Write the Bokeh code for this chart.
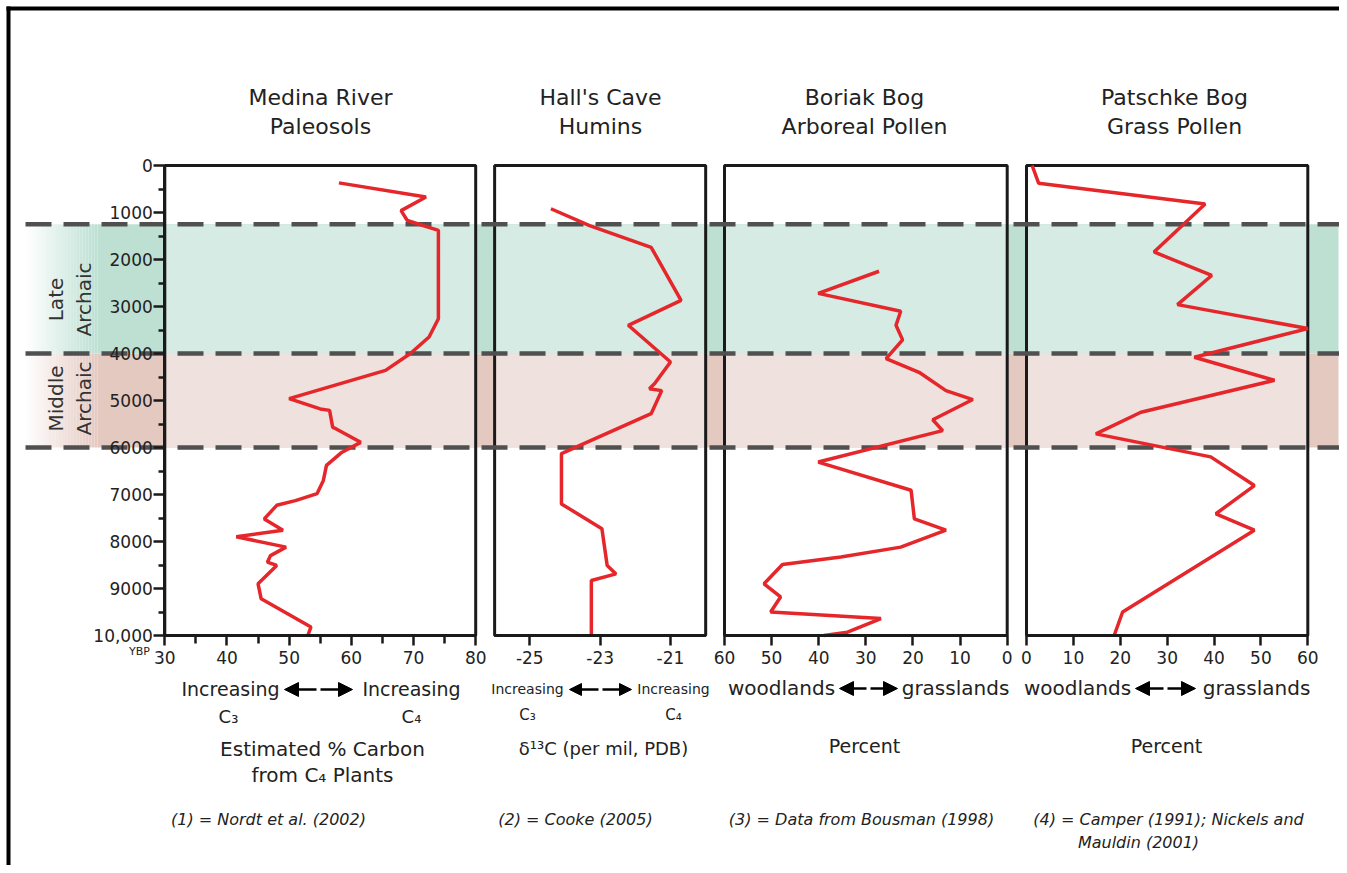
import math
from bokeh.plotting import figure
from bokeh.models import (Range1d, LinearAxis, FixedTicker, Arrow, NormalHead, Label, Grid)
from bokeh.embed import file_html
from bokeh.resources import INLINE

# ---------------- data ----------------
ybp_ticks = [0, 1000, 2000, 3000, 4000, 5000, 6000, 7000, 8000, 9000, 10000]
ybp_minor = [500, 1500, 2500, 3500, 4500, 5500, 6500, 7500, 8500, 9500]

medina_pct = [58, 72, 68, 69, 74, 74, 72.5, 69.5, 65.5, 50, 55, 56.5, 57, 57.5, 61.5,
              58.5, 56, 55.5, 54.5, 51, 48, 46, 49, 41.5, 49.5, 47, 46.5, 48, 45, 45.5, 53.5, 53]
medina_ybp = [370, 670, 960, 1170, 1380, 3260, 3650, 4000, 4360, 4960, 5180, 5210, 5570, 5600, 5890,
              6100, 6380, 6700, 6980, 7130, 7230, 7520, 7760, 7900, 8120, 8300, 8440, 8510, 8900, 9220, 9820, 10000]

halls_d13c = [-24.4, -23.3, -21.55, -20.7, -22.2, -21.0, -21.45, -21.6, -21.25, -21.55,
              -24.1, -24.1, -22.95, -22.8, -22.55, -23.25, -23.25]
halls_ybp = [920, 1280, 1740, 2870, 3400, 4180, 4640, 4750, 4790, 5280,
             6130, 7200, 7730, 8510, 8690, 8830, 10000]

boriak_pct = [27.2, 40.1, 22.6, 23.6, 22.2, 25.7, 18.7, 13.0, 7.3, 15.8, 13.7, 40.1,
              20.4, 19.7, 13.0, 22.6, 35.3, 47.7, 51.6, 48.1, 50.2, 26.8, 33.9, 38.9]
boriak_ybp = [2250, 2720, 3100, 3400, 3710, 4110, 4400, 4790, 4980, 5410, 5640, 6310,
              6910, 7520, 7760, 8120, 8330, 8490, 8900, 9180, 9500, 9640, 9930, 10000]

patschke_pct = [1.2, 2.6, 38.1, 27.2, 39.5, 32.2, 60.0, 35.8, 52.9, 24.4, 14.8, 39.3,
                48.6, 40.4, 48.6, 20.5, 18.7]
patschke_ybp = [0, 380, 820, 1840, 2340, 2960, 3470, 4080, 4570, 5250, 5710, 6200,
                6810, 7410, 7760, 9500, 10000]

medina_ticks = [30, 40, 50, 60, 70, 80]
medina_minor = [35, 45, 55, 65, 75]
halls_ticks = [-25, -23, -21]
halls_tick_labels = ["-25", "-23", "-21"]
boriak_ticks = [60, 50, 40, 30, 20, 10, 0]
patschke_ticks = [0, 10, 20, 30, 40, 50, 60]

period_top = [1250, 4000]
period_bottom = [4000, 6000]
period_boundaries = [1250, 4000, 6000]
period_lines = [["Late", "Archaic"], ["Middle", "Archaic"]]

titles = [["Medina River", "Paleosols"], ["Hall's Cave", "Humins"],
          ["Boriak Bog", "Arboreal Pollen"], ["Patschke Bog", "Grass Pollen"]]

# ---------------- layout ----------------
W, H = 1339, 865
FX0, FX1 = 0, W          # picture px covered by the frame
FY0, FY1 = 0, H
Y0_PX, Y1_PX = 165, 635     # picture px of 0 and 10000 YBP
K = (Y1_PX - Y0_PX) / 10000.0

def ybp_at(py):
    return (py - Y0_PX) / K

def x_range(v0, px0, v1, px1):
    k = (v1 - v0) / (px1 - px0)
    return Range1d(start=v0 + (FX0 - px0) * k, end=v0 + (FX1 - px0) * k)

FONT = "DejaVu Sans"
TXT = "#222222"
GREEN_IN, GREEN_OUT = "#d5ebe3", "#bde0d3"
PINK_IN, PINK_OUT = "#efe1dd", "#e4c9c1"
band_in = [GREEN_IN, PINK_IN]
band_out = [GREEN_OUT, PINK_OUT]

p = figure(width=W, height=H, x_range=Range1d(FX0, FX1),
           y_range=Range1d(ybp_at(FY1), ybp_at(FY0)),
           output_backend="svg", toolbar_location=None,
           x_axis_location=None, y_axis_location=None, min_border=0)
p.center = [r for r in p.center if not isinstance(r, Grid)]
p.outline_line_color = None
p.background_fill_color = "white"
p.border_fill_color = "white"
p.extra_y_ranges = {"pg": Range1d(FY1, FY0)}

panels = [
    dict(name="p1", lo=30, hi=80, rng=x_range(30, 164.3, 80, 475.2), x=medina_pct, y=medina_ybp,
         ticks=medina_ticks, minor=medina_minor, labels=None),
    dict(name="p2", lo=-26, hi=-20, rng=x_range(-25, 529.3, -21, 670.0), x=halls_d13c, y=halls_ybp,
         ticks=halls_ticks, minor=[], labels=dict(zip(halls_ticks, halls_tick_labels))),
    dict(name="p3", lo=60, hi=0, rng=x_range(60, 724.0, 0, 1006.7), x=boriak_pct, y=boriak_ybp,
         ticks=boriak_ticks, minor=[], labels=None),
    dict(name="p4", lo=0, hi=60, rng=x_range(0, 1026.0, 60, 1307.3), x=patschke_pct, y=patschke_ybp,
         ticks=patschke_ticks, minor=[], labels=None),
]
p.extra_x_ranges = {pn["name"]: pn["rng"] for pn in panels}

# ---- bands (outside panels, with a fade on the left) ----
N = 24
for i in range(N):
    x0 = 25 + i * 3.0
    p.quad(left=[x0] * 2, right=[x0 + 3.0] * 2, top=period_top, bottom=period_bottom,
           fill_color=band_out, fill_alpha=(i + 0.5) / N, line_color=None)
p.quad(left=[97] * 2, right=[1338] * 2, top=period_top, bottom=period_bottom,
       fill_color=band_out, line_color=None)

# ---- bands inside panels ----
for pn in panels:
    p.quad(left=[pn["lo"]] * 2, right=[pn["hi"]] * 2, top=period_top, bottom=period_bottom,
           fill_color=band_in, line_color=None, x_range_name=pn["name"])

# ---- panel boxes ----
for pn in panels:
    p.quad(left=[pn["lo"]], right=[pn["hi"]], top=[0], bottom=[10000], fill_color=None,
           line_color="#1a1a1a", line_width=3, x_range_name=pn["name"])

# ---- dashed period boundaries ----
p.segment(x0=[25] * 3, x1=[1339] * 3, y0=period_boundaries, y1=period_boundaries,
          line_color="#505050", line_width=4.5, line_dash="26 12")

# ---- data lines ----
for pn in panels:
    p.line(pn["x"], pn["y"], line_color="#e5262b", line_width=3.5, x_range_name=pn["name"])

# ---- outer border (left, top) ----
p.segment(x0=[8, 6], x1=[8, 1339], y0=[6, 8], y1=[865, 8], y_range_name="pg",
          line_color="black", line_width=4)

# ---- axes ----
yax = LinearAxis(fixed_location=164.3, bounds=(0, 10000),
                 ticker=FixedTicker(ticks=ybp_ticks, minor_ticks=ybp_minor))
yax.major_label_overrides = {10000: "10,000"}
yax.major_tick_out = 11
yax.major_tick_in = 0
yax.minor_tick_out = 6
yax.minor_tick_in = 0
yax.major_label_standoff = 1
p.add_layout(yax, "left")

axes = [yax]
for pn in panels:
    ax = LinearAxis(x_range_name=pn["name"], fixed_location=10000,
                    bounds=(min(pn["lo"], pn["hi"]), max(pn["lo"], pn["hi"])),
                    ticker=FixedTicker(ticks=pn["ticks"], minor_ticks=pn["minor"]))
    if pn["labels"]:
        ax.major_label_overrides = pn["labels"]
    ax.major_tick_out = 10
    ax.major_tick_in = 0
    ax.minor_tick_out = 8
    ax.minor_tick_in = 0
    ax.major_label_standoff = 5
    p.add_layout(ax, "below")
    axes.append(ax)

for ax in axes:
    ax.axis_line_width = 3
    ax.axis_line_color = "#1a1a1a"
    ax.major_tick_line_width = 2.5
    ax.minor_tick_line_width = 2.5
    ax.major_tick_line_color = "#1a1a1a"
    ax.minor_tick_line_color = "#1a1a1a"
    ax.major_label_text_font = FONT
    ax.major_label_text_font_size = "17px"
    ax.major_label_text_color = TXT

# ---- text helpers ----
def lab(x, y, text, size, style="normal", angle=0.0, align="center", color=TXT):
    p.add_layout(Label(x=x, y=y, y_range_name="pg", text=text, text_font=FONT,
                       text_font_size=size, text_font_style=style, text_align=align,
                       text_baseline="middle", text_color=color, angle=angle))

def arrows(xc, y, half, gap=2, size=14):
    for sgn in (-1, 1):
        p.add_layout(Arrow(end=NormalHead(size=size, fill_color="black", line_color="black"),
                           x_start=xc + sgn * gap, x_end=xc + sgn * half, y_start=y, y_end=y,
                           y_range_name="pg", line_color="black", line_width=2.5))

# titles
title_x = [320, 600, 864, 1174]
for tx, (l1, l2) in zip(title_x, titles):
    lab(tx, 97, l1, "22px")
    lab(tx, 126, l2, "22px")

# period labels (rotated)
for (w1, w2), yc in zip(period_lines, [299, 398]):
    lab(55, yc, w1, "20px", angle=math.pi / 2, color="#333333")
    lab(83, yc, w2, "20px", angle=math.pi / 2, color="#333333")

lab(139, 651, "YBP", "11px")

# direction labels
lab(230, 688, "Increasing", "19px")
lab(411, 688, "Increasing", "19px")
arrows(318, 689, 34)
lab(228, 716, "C\u2083", "18px")
lab(411, 716, "C\u2084", "18px")

lab(527, 688, "Increasing", "14px")
lab(673, 688, "Increasing", "14px")
arrows(600, 689, 31, size=12)
lab(527, 714, "C\u2083", "15px")
lab(673, 714, "C\u2084", "15px")

lab(781, 687, "woodlands", "20px")
lab(955, 687, "grasslands", "20px")
arrows(868, 688, 29)
lab(1077, 687, "woodlands", "20px")
lab(1256, 687, "grasslands", "20px")
arrows(1165, 688, 30)

# axis titles
lab(322, 748, "Estimated % Carbon", "20px")
lab(322, 774, "from C\u2084 Plants", "20px")
lab(603, 748, "\u03b4\u00b9\u00b3C (per mil, PDB)", "18px")
lab(864, 745, "Percent", "19px")
lab(1166, 745, "Percent", "19px")

# citations
lab(268, 819, "(1) = Nordt et al. (2002)", "16px", style="italic")
lab(575, 819, "(2) = Cooke (2005)", "16px", style="italic")
lab(861, 819, "(3) = Data from Bousman (1998)", "16px", style="italic")
lab(1168, 819, "(4) = Camper (1991); Nickels and", "16px", style="italic")
lab(1138, 842, "Mauldin (2001)", "16px", style="italic")

open("out.html", "w").write(file_html(p, INLINE))
